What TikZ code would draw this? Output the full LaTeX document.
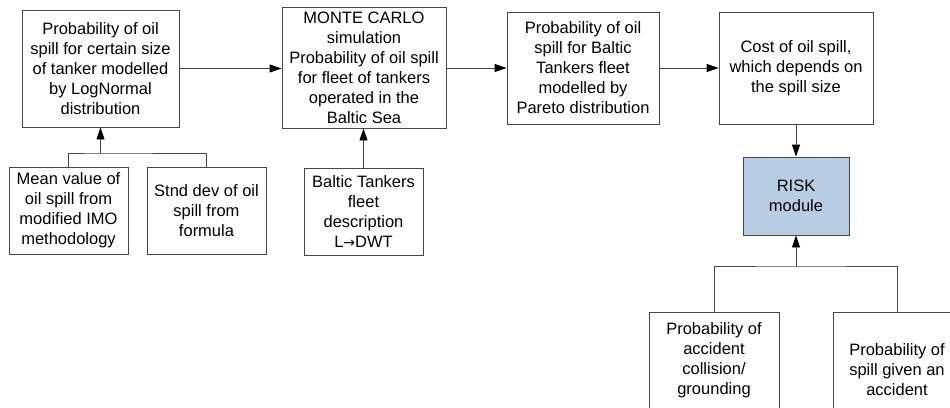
\documentclass[tikz,border=0pt]{standalone}
\usepackage{fontspec}
\setmainfont{Liberation Sans}
\usepackage{tikz}
\usetikzlibrary{arrows.meta}

\definecolor{riskblue}{RGB}{184,204,228}

\begin{document}
\begin{tikzpicture}[x=1pt,y=-1pt,
		box/.style={draw=black!72, line width=0.9pt, fill=white, align=center, inner sep=0pt,
			font=\fontsize{16.5}{20}\selectfont},
		link/.style={draw=black!72, line width=0.9pt},
		arr/.style={link, -{Triangle[length=12pt,width=8pt,color=black]}}]
		
		\clip (0,0) rectangle (950,407);
		
		% top row
		\node[box, minimum width=157pt, minimum height=117pt] (lognorm) at (100.5,68.5)
			{Probability of oil\\spill for certain size\\of tanker modelled\\by LogNormal\\distribution};
		\node[box, minimum width=164pt, minimum height=121pt] (monte) at (364,67.5)
			{MONTE CARLO\\simulation\\Probability of oil spill\\for fleet of tankers\\operated in the\\Baltic Sea};
		\node[box, minimum width=152pt, minimum height=112pt] (pareto) at (583,68)
			{Probability of oil\\spill for Baltic\\Tankers fleet\\modelled by\\Pareto distribution};
		\node[box, minimum width=154pt, minimum height=112pt] (cost) at (796,68)
			{Cost of oil spill,\\which depends on\\the spill size};
		\node[box, fill=riskblue, minimum width=106pt, minimum height=78pt] (risk) at (796,196)
			{RISK\\module};
		
		% inputs
		\node[box, minimum width=119pt, minimum height=87pt] (mean) at (68.5,210.5)
			{Mean value of\\oil spill from\\modified IMO\\methodology};
		\node[box, minimum width=119pt, minimum height=87pt] (stnd) at (206.5,210.5)
			{Stnd dev of oil\\spill from\\formula};
		\node[box, minimum width=119pt, minimum height=87pt] (baltic) at (363.5,211.5)
			{Baltic Tankers\\fleet\\description\\L{\fontspec{DejaVu Sans}\fontsize{14}{20}\selectfont →}DWT};
		\node[box, minimum width=130pt, minimum height=96pt] (acc) at (714,360)
			{Probability of\\accident\\collision/\\grounding};
		\node[box, minimum width=128pt, minimum height=116pt] (spill) at (897,370)
			{Probability of\\spill given an\\accident};
		
		\coordinate (jA) at (100.5,153);
		\coordinate (jR) at (796,266);
		
		\draw[arr] (lognorm.east) -- (lognorm.east -| monte.west);
		\draw[arr] (monte.east |- pareto.west) -- (pareto.west);
		\draw[arr] (pareto.east) -- (cost.west);
		\draw[arr] (cost.south) -- (risk.north);
		
		\draw[link] (mean.north) |- (jA) -| (stnd.north);
		\draw[arr] (jA) -- (lognorm.south);
		\draw[arr] (baltic.north) -- (baltic.north |- monte.south);
		
		\draw[link] (acc.north) |- (jR) -| (spill.north);
		\draw[arr] (jR) -- (risk.south);
		
	\end{tikzpicture}
\end{document}
